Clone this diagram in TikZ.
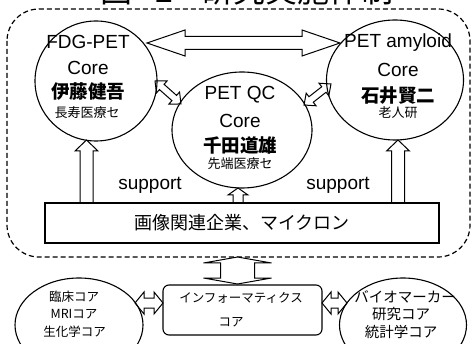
\documentclass[tikz,border=0pt]{standalone}
\usepackage{fontspec}
\setmainfont{Liberation Sans}
\newfontfamily\jp{Noto Sans CJK JP}
\usetikzlibrary{shapes.geometric}
\newcommand\dblarrow[7]{%
  \pgfmathsetmacro\myLa{#4/2}\pgfmathsetmacro\myLb{#4/2-#7}%
  \draw[blk, shift={(#1,#2)}, rotate=#3] (-\myLa,0) -- (-\myLb,#6) -- (-\myLb,#5) -- (\myLb,#5) -- (\myLb,#6) -- (\myLa,0) -- (\myLb,-#6) -- (\myLb,-#5) -- (-\myLb,-#5) -- (-\myLb,-#6) -- cycle;}
\newcommand\uparr[6]{%
  \draw[blk] ({#1-#5},#4) -- ({#1-#5},#3) -- ({#1-#6},#3) -- (#1,#2) -- ({#1+#6},#3) -- ({#1+#5},#3) -- ({#1+#5},#4);}
\begin{document}
\begin{tikzpicture}[x=1pt,y=-1pt, line width=1.1pt,
  circ/.style={draw, ellipse, inner sep=0pt},
  lat/.style={font=\fontsize{19}{19}\selectfont, inner sep=0pt},
  jpname/.style={font=\jp\bfseries\fontsize{18.5}{19}\selectfont, inner sep=0pt},
  jpaff/.style={font=\jp\fontsize{13}{13}\selectfont, inner sep=0pt},
  jpsmall/.style={font=\jp\fontsize{12.5}{13}\selectfont, inner sep=0pt},
  blk/.style={draw, fill=white, line width=1pt, line join=miter},
  group/.style={draw, dash pattern=on 5pt off 3pt, line width=1.2pt, rounded corners=32pt},
]
\useasboundingbox (0,0) rectangle (473,344);
\clip (0,0) rectangle (473,344);

% title (cut off at the top edge, as in the reference)
\node[font=\jp\fontsize{32}{32}\selectfont, anchor=base west, inner sep=0pt] (title) at (100,3) {図\hspace{23pt}2\hspace{28pt}研究実施体制};

% dashed group
\draw[group] (7,9) rectangle (470,257);

% arrows
\dblarrow{243.5}{43}{0}{193}{6.5}{13}{38}
\dblarrow{168}{92.5}{-41.5}{34.7}{3.5}{8}{9}
\dblarrow{317.5}{94.5}{38}{34.2}{3.5}{8}{9}
\uparr{86.5}{140}{151}{203}{6.5}{11.5}
\uparr{398}{140}{151}{203}{6.5}{11.5}
\uparr{238}{188}{195}{203}{5}{10}
\dblarrow{237.5}{270.5}{90}{27}{17}{34}{6}
\dblarrow{149}{303}{0}{28}{5}{11}{9}
\dblarrow{334.5}{303}{0}{25}{5}{11}{9}

% cores
\node[circ, minimum width=122pt, minimum height=120pt] (fdg) at (96,81) {};
\node[circ, minimum width=140pt, minimum height=116pt] (qc) at (242,130) {};
\node[circ, minimum width=137pt, minimum height=120pt] (amy) at (395,80) {};

\node[lat] (fdg1) at (88,42) {FDG-PET};
\node[lat] (fdg2) at (88,68) {Core};
\node[jpname] (fdg3) at (88,92) {伊藤健吾};
\node[jpaff] (fdg4) at (87,113) {長寿医療セ};

\node[lat] (qc1) at (240,95) {PET QC};
\node[lat] (qc2) at (240,121) {Core};
\node[jpname] (qc3) at (240,145) {千田道雄};
\node[jpaff] (qc4) at (240,164) {先端医療セ};

\node[lat] (amy1) at (398,43) {PET amyloid};
\node[lat] (amy2) at (398,70) {Core};
\node[jpname] (amy3) at (398,96) {石井賢二};
\node[jpaff] (amy4) at (398,113) {老人研};

\node[lat] (sup1) at (150,185) {support};
\node[lat] (sup2) at (338,185) {support};

% company bar
\node[draw, fill=white, minimum width=394pt, minimum height=40pt, inner sep=0pt,
      font=\jp\fontsize{18}{18}\selectfont] (bar) at (242,223) {画像関連企業、マイクロン};

% informatics
\node[draw, rounded corners=6pt, minimum width=159pt, minimum height=50pt, inner sep=0pt] (inf) at (242.5,310) {};
\node[jpsmall] (inf1) at (241,298) {インフォーマティクス};
\node[jpsmall] (inf2) at (231,322) {コア};

\node[circ, minimum width=128pt, minimum height=94pt] (cl) at (79,325) {};
\node[jpsmall] (cl1) at (74,297) {臨床コア};
\node[jpsmall] (cl2) at (74,314) {MRIコア};
\node[jpsmall] (cl3) at (74.5,332) {生化学コア};

\node[circ, minimum width=127pt, minimum height=94pt] (bio) at (403,325) {};
\node[font=\jp\fontsize{14.5}{15}\selectfont, inner sep=0pt] (bio1) at (405,297) {バイオマーカー};
\node[font=\jp\fontsize{14.5}{15}\selectfont, inner sep=0pt] (bio2) at (401,314) {研究コア};
\node[font=\jp\fontsize{14.5}{15}\selectfont, inner sep=0pt] (bio3) at (401,332) {統計学コア};
\end{tikzpicture}
\end{document}
